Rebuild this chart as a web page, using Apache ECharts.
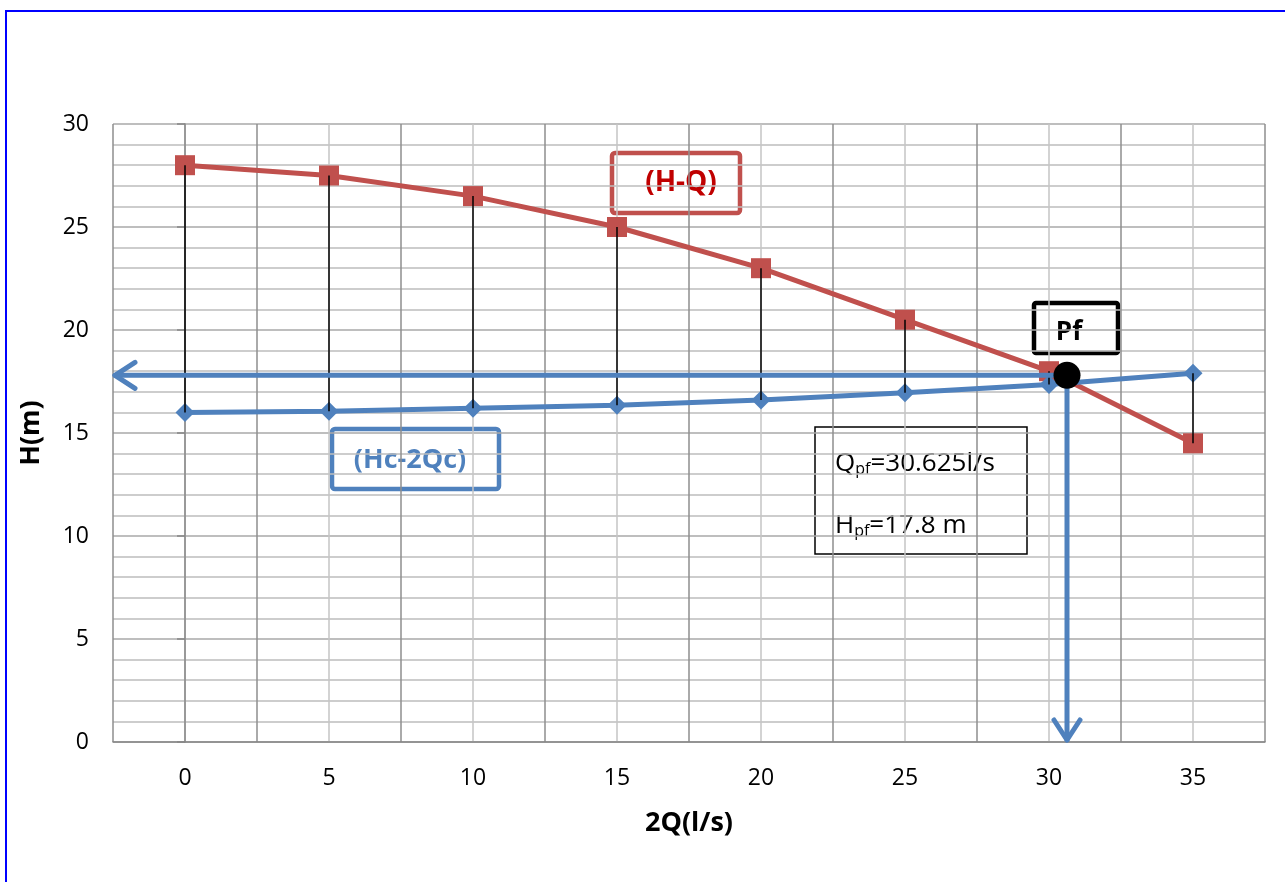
<!DOCTYPE html>
<html>
<head>
<meta charset="utf-8">
<title>H-Q / Hc-2Qc</title>
<script src="https://cdn.jsdelivr.net/npm/echarts@6/dist/echarts.min.js"></script>
<style>
  html, body { margin: 0; padding: 0; background: #ffffff; }
  #chart { width: 1285px; height: 882px; }
</style>
</head>
<body>
<div id="chart"></div>
<script>
// Flow values 2Q (l/s)
const flows = [0, 5, 10, 15, 20, 25, 30, 35];
const flowLabels = ['0', '5', '10', '15', '20', '25', '30', '35'];
// Pump curve H-Q (m)
const headPump = [28, 27.5, 26.5, 25, 23, 20.5, 18, 14.5];
// System curve Hc-2Qc (m)
const headSystem = [16.0, 16.05, 16.2, 16.35, 16.6, 16.95, 17.35, 17.9];
// Operating point Pf
const Qpf = 30.625;
const Hpf = 17.8;
// Projection arrows from Pf onto the axes: [fromQ, fromH, toQ, toH]
const xMin = -2.5;
const projections = [
  [Qpf, Hpf, xMin, Hpf],
  [Qpf, Hpf, Qpf, 0]
];

const FONT = '"Open Sans", Lato, sans-serif';
const RED = '#C0504D';
const BLUE = '#4F81BD';

const chart = echarts.init(document.getElementById('chart'), null, { renderer: 'canvas' });

// vertical connector between the two curves at each flow
const connectors = flows.map((q, i) => [q, headPump[i], headSystem[i]]);

const option = {
  backgroundColor: '#ffffff',
  animation: false,
  grid: { left: 113, right: 20, top: 124, bottom: 140 },
  xAxis: {
    type: 'value',
    min: xMin,
    max: 37.5,
    interval: 2.5,
    name: '2Q(l/s)',
    nameLocation: 'middle',
    nameGap: 68,
    nameTextStyle: { fontFamily: FONT, fontSize: 27, fontWeight: 'bold', color: '#000' },
    axisLine: { show: true, lineStyle: { color: '#868686', width: 1.5 } },
    axisTick: { show: false },
    axisLabel: {
      fontFamily: FONT, fontSize: 23, color: '#000', margin: 25,
      formatter: function (v) {
        const i = flows.indexOf(v);
        return i >= 0 ? flowLabels[i] : '';
      }
    },
    splitLine: { show: true, lineStyle: { color: ['#8e8e8e', '#c4c4c4'], width: 1.5 } }
  },
  yAxis: {
    type: 'value',
    min: 0,
    max: 30,
    interval: 5,
    name: 'H(m)',
    nameLocation: 'middle',
    nameGap: 68,
    nameRotate: 90,
    nameTextStyle: { fontFamily: FONT, fontSize: 27, fontWeight: 'bold', color: '#000' },
    axisLine: { show: true, lineStyle: { color: '#868686', width: 1.5 } },
    axisTick: { show: true, length: 8, lineStyle: { color: '#868686', width: 1.5 } },
    axisLabel: { fontFamily: FONT, fontSize: 23, color: '#000', margin: 24 },
    splitLine: { show: true, lineStyle: { color: '#a9a9a9', width: 1.5 } },
    minorTick: { show: false, splitNumber: 5 },
    minorSplitLine: { show: true, lineStyle: { color: '#bdbdbd', width: 1.5 } }
  },
  series: [
    {
      name: '(H-Q)',
      type: 'line',
      data: flows.map((q, i) => [q, headPump[i]]),
      symbol: 'rect',
      symbolSize: 20,
      lineStyle: { color: RED, width: 5 },
      itemStyle: { color: RED },
      z: 3
    },
    {
      name: '(Hc-2Qc)',
      type: 'line',
      data: flows.map((q, i) => [q, headSystem[i]]),
      symbol: 'diamond',
      symbolSize: 19,
      lineStyle: { color: BLUE, width: 5 },
      itemStyle: { color: BLUE },
      z: 3
    },
    {
      type: 'custom',
      data: connectors,
      encode: { x: 0, y: [1, 2] },
      renderItem: function (params, api) {
        const top = api.coord([api.value(0), api.value(1)]);
        const bottom = api.coord([api.value(0), api.value(2)]);
        return {
          type: 'line',
          shape: { x1: top[0], y1: top[1], x2: bottom[0], y2: bottom[1] },
          style: { stroke: '#000000', lineWidth: 1.5 }
        };
      },
      silent: true,
      z: 5
    },
    {
      // projection arrows with open chevron heads
      type: 'custom',
      data: projections,
      encode: { x: [0, 2], y: [1, 3] },
      renderItem: function (params, api) {
        const a = api.coord([api.value(0), api.value(1)]);
        const b = api.coord([api.value(2), api.value(3)]);
        const dx = b[0] - a[0], dy = b[1] - a[1];
        const len = Math.sqrt(dx * dx + dy * dy) || 1;
        const ux = dx / len, uy = dy / len;
        const back = 20, half = 13;
        const tip = [b[0] - ux * 2, b[1] - uy * 2];
        const base = [tip[0] - ux * back, tip[1] - uy * back];
        const w1 = [base[0] - uy * half, base[1] + ux * half];
        const w2 = [base[0] + uy * half, base[1] - ux * half];
        const stroke = { stroke: BLUE, lineWidth: 5, lineCap: 'round', lineJoin: 'round', fill: null };
        return {
          type: 'group',
          children: [
            { type: 'line', shape: { x1: a[0], y1: a[1], x2: tip[0], y2: tip[1] }, style: stroke },
            { type: 'polyline', shape: { points: [w1, tip, w2] }, style: stroke }
          ]
        };
      },
      silent: true,
      z: 6
    },
    {
      name: 'Pf',
      type: 'scatter',
      data: [[Qpf, Hpf]],
      symbol: 'circle',
      symbolSize: 27,
      itemStyle: { color: '#000000', opacity: 1 },
      z: 8
    }
  ],
  graphic: [
    {
      type: 'rect', z: 0, silent: true,
      shape: { x: 6, y: 11, width: 1320, height: 920 },
      style: { fill: 'none', stroke: '#0000ff', lineWidth: 2 }
    },
    {
      type: 'group', z: 100,
      children: [
        {
          type: 'rect', shape: { x: 612, y: 153, width: 128, height: 60, r: 3 },
          style: { fill: '#ffffff', stroke: RED, lineWidth: 4.5 }
        },
        {
          type: 'text', x: 681, y: 183,
          style: { text: '(H-Q)', fill: '#C00000', font: 'bold 28px ' + FONT, align: 'center', verticalAlign: 'middle' }
        },
        {
          type: 'rect', shape: { x: 332, y: 429, width: 167, height: 60, r: 3 },
          style: { fill: '#ffffff', stroke: BLUE, lineWidth: 4.5 }
        },
        {
          type: 'text', x: 410, y: 460,
          style: { text: '(Hc-2Qc)', fill: BLUE, font: 'bold 27px ' + FONT, align: 'center', verticalAlign: 'middle' }
        },
        {
          type: 'rect', shape: { x: 1034, y: 303, width: 84, height: 50, r: 2 },
          style: { fill: '#ffffff', stroke: '#000000', lineWidth: 4.5 }
        },
        {
          type: 'text', x: 1069, y: 333,
          style: { text: 'Pf', fill: '#000000', font: 'bold 26px ' + FONT, align: 'center', verticalAlign: 'middle' }
        },
        {
          type: 'rect', shape: { x: 815, y: 427, width: 212, height: 127 },
          style: { fill: '#ffffff', stroke: '#000000', lineWidth: 1.5 }
        },
        {
          type: 'text', x: 835, y: 462,
          style: {
            text: '{a|Q}{s|pf}{a|=' + Qpf + 'l/s}',
            align: 'left', verticalAlign: 'middle',
            rich: {
              a: { fontFamily: FONT, fontSize: 26, fill: '#000', lineHeight: 30, verticalAlign: 'bottom' },
              s: { fontFamily: FONT, fontSize: 16, fill: '#000', lineHeight: 30, verticalAlign: 'bottom' }
            }
          }
        },
        {
          type: 'text', x: 835, y: 524,
          style: {
            text: '{a|H}{s|pf}{a|=' + Hpf + ' m}',
            align: 'left', verticalAlign: 'middle',
            rich: {
              a: { fontFamily: FONT, fontSize: 26, fill: '#000', lineHeight: 30, verticalAlign: 'bottom' },
              s: { fontFamily: FONT, fontSize: 16, fill: '#000', lineHeight: 30, verticalAlign: 'bottom' }
            }
          }
        }
      ]
    }
  ]
};

chart.setOption(option);
</script>
</body>
</html>
